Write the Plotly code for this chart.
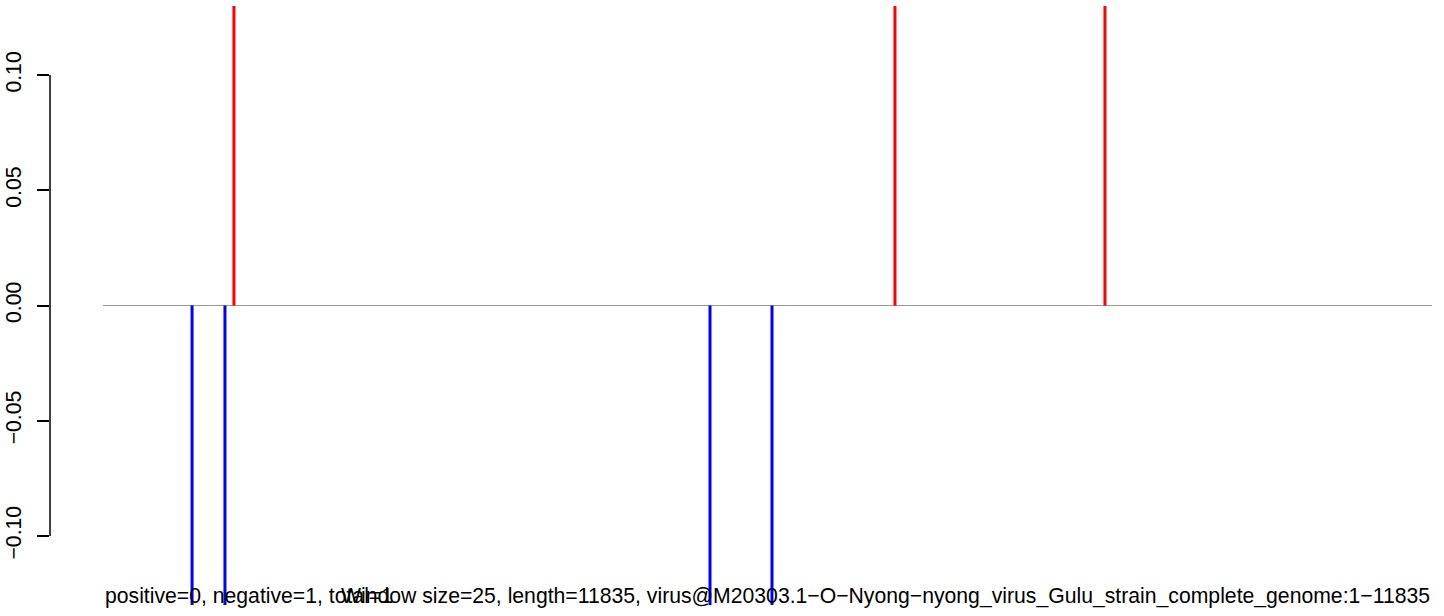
import plotly.graph_objects as go

# Data
genome_start = 1
genome_length = 11835
pos_positions = [1167, 7053, 8923]
pos_values = [1, 1, 1]
neg_positions = [794, 1087, 5406, 5958]
neg_values = [-1, -1, -1, -1]
ytick_vals = [-0.10, -0.05, 0.00, 0.05, 0.10]
ytick_text = ["\u22120.10", "\u22120.05", "0.00", "0.05", "0.10"]
left_label = "positive=0, negative=1, total=1"
right_label = ("Window size=25, length=11835, virus@M20303.1\u2212O\u2212Nyong\u2212nyong"
               "_virus_Gulu_strain_complete_genome:1\u221211835")

FONT = "Liberation Sans, Arial, Helvetica, sans-serif"
FS = 21.2

def stems(xs, ys):
    X, Y = [], []
    for x, y in zip(xs, ys):
        X += [x, x, None]
        Y += [0, y, None]
    return X, Y

fig = go.Figure()
fig.add_trace(go.Scatter(x=[genome_start, genome_length], y=[0, 0], mode="lines",
                         line=dict(color="#999999", width=1.2), hoverinfo="skip"))
bx, by = stems(neg_positions, neg_values)
fig.add_trace(go.Scatter(x=bx, y=by, mode="lines", line=dict(color="#0000FF", width=3)))
rx, ry = stems(pos_positions, pos_values)
fig.add_trace(go.Scatter(x=rx, y=ry, mode="lines", line=dict(color="#FF0000", width=3)))

# plot area: left edge at 50px, data start at 103px, data end at 1432px
plot_left_px, data_left_px, data_right_px = 50, 103, 1432
scale = (genome_length - genome_start) / (data_right_px - data_left_px)
x0 = genome_start - (data_left_px - plot_left_px) * scale

fig.update_layout(
    width=1444, height=616,
    margin=dict(l=plot_left_px, r=1444 - data_right_px, t=6, b=11, autoexpand=False),
    paper_bgcolor="white", plot_bgcolor="white",
    showlegend=False,
    font=dict(family=FONT, size=FS, color="black"),
    xaxis=dict(range=[x0, genome_length], visible=False, showgrid=False, zeroline=False),
    yaxis=dict(range=[-0.13, 0.13], showgrid=False, zeroline=False, showline=False,
               tickmode="array", tickvals=ytick_vals, ticktext=ytick_text,
               ticks="outside", ticklen=12, tickwidth=1.5, tickcolor="black",
               tickangle=-90, tickfont=dict(family=FONT, size=FS, color="black"),
               ticklabelstandoff=8),
    shapes=[dict(type="line", xref="paper", x0=0, x1=0, yref="y",
                 y0=ytick_vals[0], y1=ytick_vals[-1],
                 line=dict(color="black", width=1.5))],
    annotations=[
        dict(text=left_label, xref="x", x=genome_start, xanchor="left",
             yref="paper", y=0.015, yanchor="middle", showarrow=False,
             font=dict(family=FONT, size=FS, color="black")),
        dict(text=right_label, xref="x", x=genome_length, xanchor="right",
             yref="paper", y=0.015, yanchor="middle", showarrow=False,
             font=dict(family=FONT, size=FS, color="black")),
    ],
)

fig.write_html("out.html", config={"displayModeBar": False},
               post_script="document.body.style.margin='0';")
